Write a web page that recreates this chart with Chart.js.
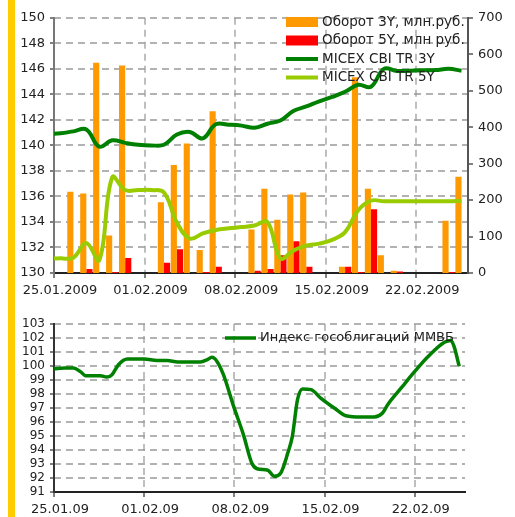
<!DOCTYPE html>
<html>
<head>
<meta charset="utf-8">
<script src="https://cdn.jsdelivr.net/npm/chart.js@4.4.1/dist/chart.umd.min.js"></script>
<style>
  html, body { margin: 0; padding: 0; background: #fff; }
  #stripe { position: absolute; left: 8px; top: 0; width: 7px; height: 517px; background: #ffcc00; }
</style>
</head>
<body>
<div id="stripe"></div>
<canvas id="top" width="515" height="300" style="position:absolute;left:0;top:0"></canvas>
<canvas id="bottom" width="515" height="217" style="position:absolute;left:0;top:300px"></canvas>
<script>
// days counted from 25.01.2009, one bar slot per day
const weekTicks = [0, 7, 14, 21, 28];
const topTickLabels = ['25.01.2009', '01.02.2009', '08.02.2009', '15.02.2009', '22.02.2009'];
const bottomTickLabels = ['25.01.09', '01.02.09', '08.02.09', '15.02.09', '22.02.09'];

// turnover, mln rub (25.01 .. 25.02)
const turnover3Y = [null, 223, 218, 577, 103, 569, null, null, 194, 296, 355, 63, 444, null, null,
  119, 231, 146, 215, 221, null, null, 17, 537, 231, 49, 6, null, null, null, 143, 264];
const turnover5Y = [null, null, 11, null, 3, 41, null, null, 28, 65, null, 3, 17, null, null,
  6, 11, 49, 87, 17, null, null, 17, 3, 175, null, 4, null, null, null, 3, null];

// MICEX CBI TR, one value per day from 24.01 (first one sits left of the axis)
const cbi3Y = [140.9, 140.95, 141.1, 141.25, 139.9, 140.4, 140.2, 140.05, 140.0, 140.05, 140.85,
  141.05, 140.55, 141.65, 141.62, 141.55, 141.38, 141.7, 141.95, 142.7, 143.05, 143.45, 143.8,
  144.2, 144.75, 144.6, 146.0, 145.83, 145.85, 145.88, 145.9, 146.0, 145.85];
const cbi5Y = [131.15, 131.15, 131.2, 132.35, 131.0, 137.5, 136.5, 136.5, 136.5, 136.3, 133.95,
  132.7, 133.1, 133.37, 133.5, 133.6, 133.72, 134.0, 131.15, 131.75, 132.14, 132.3, 132.6,
  133.2, 134.9, 135.67, 135.62, 135.62, 135.62, 135.62, 135.62, 135.62, 135.65];

// MMVB government bond index
const mmvbDays = [0, 0.8, 1.5, 2.05, 2.45, 3.6, 4.1, 4.5, 5.0, 5.7, 7.0, 8.0, 8.8, 9.6, 11.35,
  11.9, 12.25, 12.65, 13.15, 13.95, 14.7, 15.35, 15.75, 16.6, 17.1, 17.6, 18.15, 18.5, 18.9,
  19.3, 19.95, 20.7, 21.75, 22.65, 23.85, 24.85, 25.5, 25.9, 26.95, 28.0, 29.0, 30.3, 30.8,
  31.05, 31.45];
const mmvbIndex = [99.8, 99.86, 99.86, 99.6, 99.31, 99.31, 99.21, 99.38, 100.09, 100.5, 100.5,
  100.4, 100.4, 100.29, 100.29, 100.45, 100.62, 100.33, 99.38, 97.1, 95.1, 93.07, 92.66, 92.55,
  92.12, 92.36, 93.8, 94.97, 97.6, 98.36, 98.31, 97.71, 97.0, 96.45, 96.36, 96.36, 96.64,
  97.24, 98.43, 99.61, 100.64, 101.69, 101.83, 101.4, 99.97];

const textColor = '#222';

const barPoints = arr => arr.map((v, i) => ({ x: i + 0.5, y: v }));
const linePoints = arr => arr.map((v, i) => ({ x: i - 0.5, y: v }));

// dashed grid + tick marks, painted behind what is already drawn
const dashedGrid = {
  id: 'dashedGrid',
  afterDatasetsDraw(chart) {
    const { ctx, chartArea: a, scales } = chart;
    const line = (x1, y1, x2, y2) => { ctx.beginPath(); ctx.moveTo(x1, y1); ctx.lineTo(x2, y2); ctx.stroke(); };
    ctx.save();
    ctx.globalCompositeOperation = 'destination-over';
    ctx.lineWidth = 1.5;
    ctx.setLineDash([7, 5]);
    ctx.strokeStyle = '#999';
    scales.y.ticks.forEach(t => {
      if (t.value === scales.y.min) return;
      const py = Math.round(scales.y.getPixelForValue(t.value));
      line(a.left, py, a.right, py);
    });
    ctx.strokeStyle = '#aaa';
    scales.x.ticks.forEach(t => {
      if (t.value === scales.x.min) return;
      const px = Math.round(scales.x.getPixelForValue(t.value));
      line(px, a.top, px, a.bottom);
    });
    ctx.setLineDash([]);
    ctx.strokeStyle = '#555';
    scales.y.ticks.forEach(t => {
      const py = Math.round(scales.y.getPixelForValue(t.value));
      line(a.left - 4, py, a.left, py);
    });
    scales.x.ticks.forEach(t => {
      const px = Math.round(scales.x.getPixelForValue(t.value));
      line(px, a.bottom, px, a.bottom + 5);
    });
    if (scales.y1) {
      scales.y1.ticks.forEach(t => {
        const py = Math.round(scales.y1.getPixelForValue(t.value));
        line(a.right, py, a.right + 5, py);
      });
    }
    ctx.restore();
  }
};

// legend drawn inside the plot, top right
const insideLegend = {
  id: 'insideLegend',
  afterDatasetsDraw(chart, args, opts) {
    const ctx = chart.ctx;
    ctx.save();
    ctx.globalCompositeOperation = 'source-over';
    ctx.font = opts.size + 'px "DejaVu Sans"';
    ctx.textBaseline = 'middle';
    chart.data.datasets.forEach((ds, i) => {
      const y = opts.y + i * opts.rowHeight;
      if (ds.type === 'line') {
        ctx.strokeStyle = ds.borderColor;
        ctx.lineWidth = ds.borderWidth;
        ctx.beginPath();
        ctx.moveTo(opts.x, y);
        ctx.lineTo(opts.x + opts.boxWidth, y);
        ctx.stroke();
      } else {
        ctx.fillStyle = ds.backgroundColor;
        ctx.fillRect(opts.x, y - 5, opts.boxWidth, 10);
      }
      ctx.fillStyle = textColor;
      ctx.fillText(ds.label, opts.x + opts.boxWidth + 4, y);
    });
    ctx.restore();
  }
};

const xScale = (max, labels, height) => ({
  type: 'linear',
  min: 0,
  max: max,
  offset: false,
  afterBuildTicks: s => { s.ticks = weekTicks.map(v => ({ value: v })); },
  afterFit: s => { s.height = height; },
  ticks: {
    callback: v => labels[weekTicks.indexOf(v)],
    labelOffset: 6,
    padding: 10,
    maxRotation: 0,
    autoSkip: false,
    font: { family: 'DejaVu Sans', size: 13 },
    color: textColor
  },
  grid: { display: false, drawTicks: false, offset: false },
  border: { color: '#222', width: 2 }
});

new Chart(document.getElementById('top'), {
  type: 'bar',
  data: {
    datasets: [{
      type: 'bar',
      label: 'Оборот 3Y, млн.руб.',
      data: barPoints(turnover3Y),
      backgroundColor: '#ff9900',
      yAxisID: 'y1',
      order: 2,
      categoryPercentage: 0.95,
      barPercentage: 1.0
    }, {
      type: 'bar',
      label: 'Оборот 5Y, млн руб.',
      data: barPoints(turnover5Y),
      backgroundColor: '#ff0000',
      yAxisID: 'y1',
      order: 2,
      categoryPercentage: 0.95,
      barPercentage: 1.0
    }, {
      type: 'line',
      label: 'MICEX CBI TR 3Y',
      data: linePoints(cbi3Y),
      borderColor: '#008000',
      borderWidth: 4,
      pointRadius: 0,
      tension: 0.4,
      yAxisID: 'y',
      order: 1
    }, {
      type: 'line',
      label: 'MICEX CBI TR 5Y',
      data: linePoints(cbi5Y),
      borderColor: '#99cc00',
      borderWidth: 4,
      pointRadius: 0,
      tension: 0.4,
      yAxisID: 'y',
      order: 1
    }]
  },
  options: {
    responsive: false,
    animation: false,
    layout: { padding: { top: 12, left: 0, right: 0, bottom: 0 } },
    plugins: {
      legend: { display: false },
      tooltip: { enabled: false },
      insideLegend: { x: 286, y: 22, rowHeight: 18.5, boxWidth: 32, size: 13.5 }
    },
    scales: {
      x: xScale(32, topTickLabels, 27),
      y: {
        position: 'left',
        min: 130,
        max: 150,
        afterFit: s => { s.width = 54; },
        ticks: { stepSize: 2, padding: 9, font: { family: 'DejaVu Sans', size: 13 }, color: textColor },
        grid: { display: false, drawTicks: false },
        border: { color: '#777', width: 2 }
      },
      y1: {
        position: 'right',
        min: 0,
        max: 700,
        afterFit: s => { s.width = 47; },
        ticks: { stepSize: 100, padding: 10, font: { family: 'DejaVu Sans', size: 13 }, color: textColor },
        grid: { display: false, drawTicks: false },
        border: { color: '#555', width: 2 }
      }
    }
  },
  plugins: [dashedGrid, insideLegend]
});

new Chart(document.getElementById('bottom'), {
  type: 'line',
  data: {
    datasets: [{
      type: 'line',
      label: 'Индекс гособлигаций ММВБ',
      data: mmvbDays.map((d, i) => ({ x: d, y: mmvbIndex[i] })),
      borderColor: '#008000',
      borderWidth: 3.5,
      pointRadius: 0,
      cubicInterpolationMode: 'monotone'
    }]
  },
  options: {
    responsive: false,
    animation: false,
    layout: { padding: { top: 24, left: 0, right: 50, bottom: 0 } },
    plugins: {
      legend: { display: false },
      tooltip: { enabled: false },
      insideLegend: { x: 225, y: 38, rowHeight: 18, boxWidth: 31, size: 13 }
    },
    scales: {
      x: xScale(31.9, bottomTickLabels, 25),
      y: {
        min: 91,
        max: 103,
        afterFit: s => { s.width = 54; },
        ticks: { stepSize: 1, autoSkip: false, padding: 9, font: { family: 'DejaVu Sans', size: 12 }, color: textColor },
        grid: { display: false, drawTicks: false },
        border: { color: '#333', width: 2 }
      }
    }
  },
  plugins: [dashedGrid, insideLegend]
});
</script>
</body>
</html>
